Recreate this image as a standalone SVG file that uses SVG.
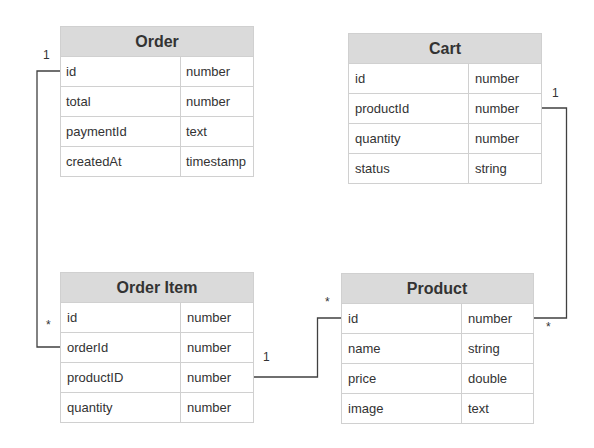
<svg xmlns="http://www.w3.org/2000/svg" width="594" height="448" viewBox="0 0 594 448">
<style>
.hd{fill:#dadada;stroke:#d0d0d0;stroke-width:1}
.rw{fill:#fff;stroke:#d0d0d0;stroke-width:1}
.dv{stroke:#d0d0d0;stroke-width:1}
.t{font-family:"Liberation Sans",Arial,sans-serif;font-size:13px;fill:#333}
.h{font-family:"Liberation Sans",Arial,sans-serif;font-size:16px;font-weight:bold;fill:#333;text-anchor:middle}
.c{fill:none;stroke:#404040;stroke-width:1.3}
.l{font-family:"Liberation Sans",Arial,sans-serif;font-size:12px;fill:#333}
</style>
<rect width="594" height="448" fill="#fff"/>
<g id="connectors">
<polyline class="c" points="60,71 37,71 37,347 60,347"/>
<polyline class="c" points="253,377 317.5,377 317.5,318 341,318"/>
<polyline class="c" points="541,108 566.5,108 566.5,318 533,318"/>
<text class="l" x="43" y="59">1</text>
<text class="l" x="46" y="329">*</text>
<text class="l" x="263" y="361">1</text>
<text class="l" x="325" y="306">*</text>
<text class="l" x="552" y="97">1</text>
<text class="l" x="546" y="331">*</text>
</g>
<g id="order">
<rect class="hd" x="60.5" y="26.5" width="193" height="30"/>
<text class="h" x="157" y="47">Order</text>
<rect class="rw" x="60.5" y="56.5" width="193" height="30"/>
<rect class="rw" x="60.5" y="86.5" width="193" height="30"/>
<rect class="rw" x="60.5" y="116.5" width="193" height="30"/>
<rect class="rw" x="60.5" y="146.5" width="193" height="30"/>
<line class="dv" x1="180.5" y1="56.5" x2="180.5" y2="176.5"/>
<text class="t" x="66" y="76">id</text><text class="t" x="186" y="76">number</text>
<text class="t" x="66" y="106">total</text><text class="t" x="186" y="106">number</text>
<text class="t" x="66" y="136">paymentId</text><text class="t" x="186" y="136">text</text>
<text class="t" x="66" y="166">createdAt</text><text class="t" x="186" y="166">timestamp</text>
</g>
<g id="cart">
<rect class="hd" x="348.5" y="33.5" width="193" height="30"/>
<text class="h" x="445" y="54">Cart</text>
<rect class="rw" x="348.5" y="63.5" width="193" height="30"/>
<rect class="rw" x="348.5" y="93.5" width="193" height="30"/>
<rect class="rw" x="348.5" y="123.5" width="193" height="30"/>
<rect class="rw" x="348.5" y="153.5" width="193" height="30"/>
<line class="dv" x1="468.5" y1="63.5" x2="468.5" y2="183.5"/>
<text class="t" x="355" y="83">id</text><text class="t" x="475" y="83">number</text>
<text class="t" x="355" y="113">productId</text><text class="t" x="475" y="113">number</text>
<text class="t" x="355" y="143">quantity</text><text class="t" x="475" y="143">number</text>
<text class="t" x="355" y="173">status</text><text class="t" x="475" y="173">string</text>
</g>
<g id="order-item">
<rect class="hd" x="60.5" y="272.5" width="193" height="30"/>
<text class="h" x="157" y="293">Order Item</text>
<rect class="rw" x="60.5" y="302.5" width="193" height="30"/>
<rect class="rw" x="60.5" y="332.5" width="193" height="30"/>
<rect class="rw" x="60.5" y="362.5" width="193" height="30"/>
<rect class="rw" x="60.5" y="392.5" width="193" height="30"/>
<line class="dv" x1="180.5" y1="302.5" x2="180.5" y2="422.5"/>
<text class="t" x="67" y="322">id</text><text class="t" x="187" y="322">number</text>
<text class="t" x="67" y="352">orderId</text><text class="t" x="187" y="352">number</text>
<text class="t" x="67" y="382">productID</text><text class="t" x="187" y="382">number</text>
<text class="t" x="67" y="412">quantity</text><text class="t" x="187" y="412">number</text>
</g>
<g id="product">
<rect class="hd" x="341.5" y="273.5" width="192" height="30"/>
<text class="h" x="437" y="294">Product</text>
<rect class="rw" x="341.5" y="303.5" width="192" height="30"/>
<rect class="rw" x="341.5" y="333.5" width="192" height="30"/>
<rect class="rw" x="341.5" y="363.5" width="192" height="30"/>
<rect class="rw" x="341.5" y="393.5" width="192" height="30"/>
<line class="dv" x1="461.5" y1="303.5" x2="461.5" y2="423.5"/>
<text class="t" x="348" y="323">id</text><text class="t" x="468" y="323">number</text>
<text class="t" x="348" y="353">name</text><text class="t" x="468" y="353">string</text>
<text class="t" x="348" y="383">price</text><text class="t" x="468" y="383">double</text>
<text class="t" x="348" y="413">image</text><text class="t" x="468" y="413">text</text>
</g>
</svg>
